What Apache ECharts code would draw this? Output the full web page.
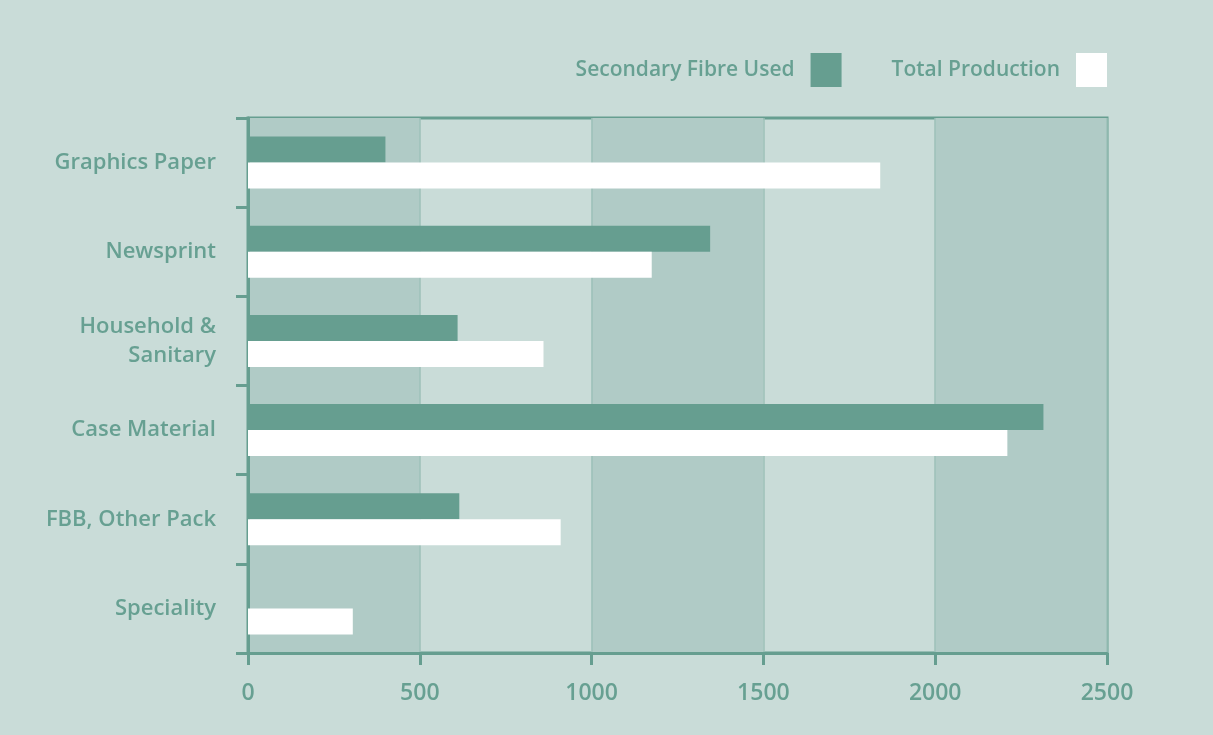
<!DOCTYPE html>
<html>
<head>
<meta charset="utf-8">
<script src="https://cdn.jsdelivr.net/npm/echarts@6/dist/echarts.min.js"></script>
<style>
html,body{margin:0;padding:0;background:#c9dcd8;}
#chart{width:1213px;height:735px;}
</style>
</head>
<body>
<div id="chart"></div>
<script>
const categories = ['Graphics Paper', 'Newsprint', 'Household &\nSanitary', 'Case Material', 'FBB, Other Pack', 'Speciality'];
const secondaryFibre = [400, 1345, 610, 2315, 615, 0];
const totalProduction = [1840, 1175, 860, 2210, 910, 305];
const xTicks = [0, 500, 1000, 1500, 2000, 2500];

const green = '#669e90';
const textColor = '#67a092';
const font = 'Open Sans';

const chart = echarts.init(document.getElementById('chart'));
chart.setOption({
  backgroundColor: '#c9dcd8',
  animation: false,
  legend: {
    right: 106,
    top: 53,
    padding: 0,
    align: 'right',
    icon: 'rect',
    itemWidth: 31,
    itemHeight: 34,
    itemGap: 50,
    textStyle: { color: textColor, fontSize: 21, fontWeight: 600, fontFamily: font, padding: [0, 11, 0, 0] },
    data: ['Secondary Fibre Used', 'Total Production']
  },
  grid: {
    left: 248, right: 106, top: 118, bottom: 82,
    show: true, borderColor: green, borderWidth: 3, backgroundColor: 'transparent'
  },
  xAxis: {
    type: 'value',
    min: xTicks[0],
    max: xTicks[xTicks.length - 1],
    interval: 500,
    axisLine: { show: true, lineStyle: { color: green, width: 3 } },
    axisTick: { show: true, length: 12, lineStyle: { color: green, width: 3 } },
    axisLabel: { color: textColor, fontSize: 23, fontWeight: 600, fontFamily: font, margin: 29, formatter: v => String(v) },
    splitLine: { show: true, lineStyle: { color: '#9dc0b8', width: 1.5 } },
    splitArea: { show: true, areaStyle: { color: ['#b0cbc6', 'rgba(0,0,0,0)'] } }
  },
  yAxis: {
    type: 'category',
    inverse: true,
    data: categories,
    axisLine: { show: true, lineStyle: { color: green, width: 3 } },
    axisTick: { show: true, length: 12, lineStyle: { color: green, width: 3 } },
    axisLabel: { color: textColor, fontSize: 22, fontWeight: 600, fontFamily: font, margin: 32, lineHeight: 29, align: 'right', padding: [0, 0, 4, 0] },
    splitLine: { show: false }
  },
  series: [
    {
      name: 'Secondary Fibre Used',
      type: 'bar',
      data: secondaryFibre,
      barWidth: 26,
      barGap: '0%',
      itemStyle: { color: green }
    },
    {
      name: 'Total Production',
      type: 'bar',
      data: totalProduction,
      barWidth: 26,
      barGap: '0%',
      itemStyle: { color: '#ffffff' }
    }
  ]
});
</script>
</body>
</html>
